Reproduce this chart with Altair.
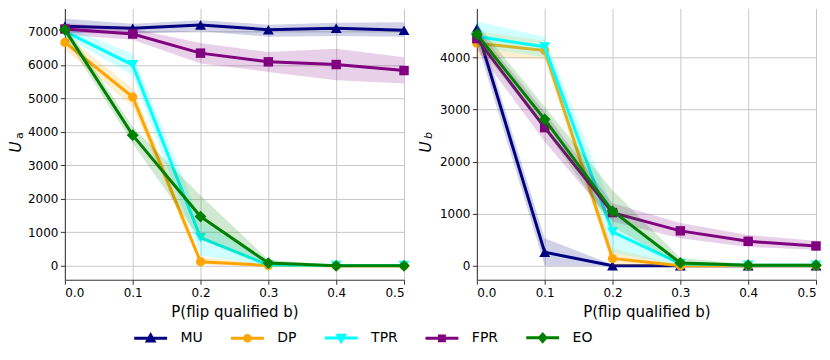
import altair as alt
import pandas as pd

# ---------------- data ----------------
xs = [0.0, 0.1, 0.2, 0.3, 0.4, 0.5]
series = ["MU", "DP", "TPR", "FPR", "EO"]
colors = ["#000080", "#ffa500", "#00ffff", "#800080", "#008000"]
shapes = ["triangle-up", "circle", "triangle-down", "square", "diamond"]
sizes = [120, 85, 120, 90, 140]

# left panel  (U_a)
ua_MU = [7150, 7090, 7190, 7050, 7090, 7030]
ua_MU_lo = [6950, 6930, 7000, 6840, 6860, 6840]
ua_MU_hi = [7380, 7230, 7330, 7200, 7260, 7270]
ua_DP = [6670, 5040, 120, 10, 0, 0]
ua_DP_lo = [6450, 4750, 30, 0, 0, 0]
ua_DP_hi = [6900, 5300, 260, 40, 20, 20]
ua_TPR = [7000, 6000, 840, 20, 10, 10]
ua_TPR_lo = [6850, 5690, 300, 0, 0, 0]
ua_TPR_hi = [7150, 6330, 1350, 100, 30, 30]
ua_FPR = [7070, 6920, 6350, 6090, 6010, 5830]
ua_FPR_lo = [6900, 6750, 6040, 5790, 5540, 5440]
ua_FPR_hi = [7250, 7080, 6650, 6380, 6480, 6230]
ua_EO = [7050, 3900, 1470, 80, 0, 0]
ua_EO_lo = [6850, 3650, 780, 0, 0, 0]
ua_EO_hi = [7200, 4150, 2100, 180, 20, 20]

# right panel (U_b)
ub_MU = [4550, 260, 0, 0, 0, 0]
ub_MU_lo = [4300, 0, 0, 0, 0, 0]
ub_MU_hi = [4750, 530, 20, 10, 10, 10]
ub_DP = [4270, 4130, 140, 0, 0, 0]
ub_DP_lo = [4030, 3960, 0, 0, 0, 0]
ub_DP_hi = [4500, 4320, 330, 20, 10, 10]
ub_TPR = [4400, 4200, 650, 40, 10, 10]
ub_TPR_lo = [4200, 4000, 250, 0, 0, 0]
ub_TPR_hi = [4690, 4390, 1100, 90, 30, 30]
ub_FPR = [4360, 2650, 1020, 670, 470, 380]
ub_FPR_lo = [4150, 2380, 850, 530, 360, 310]
ub_FPR_hi = [4550, 2950, 1200, 820, 590, 480]
ub_EO = [4440, 2810, 1050, 55, 10, 10]
ub_EO_lo = [4250, 2620, 750, 0, 0, 0]
ub_EO_hi = [4650, 3050, 1450, 150, 30, 30]

ua_yticks = [0, 1000, 2000, 3000, 4000, 5000, 6000, 7000]
ub_yticks = [0, 1000, 2000, 3000, 4000]
x_title = "P(flip qualified b)"

# legend handle glyphs: a line with the marker on it
legend_paths = [
    "M-1,0H1M-0.2,0.17L0,-0.19L0.2,0.17Z",
    "M-1,0H1M0.17,0A0.17,0.17,0,1,1,-0.17,0A0.17,0.17,0,1,1,0.17,0Z",
    "M-1,0H1M-0.2,-0.17L0,0.19L0.2,-0.17Z",
    "M-1,0H1M-0.15,-0.15H0.15V0.15H-0.15Z",
    "M-1,0H1M0,-0.22L0.19,0L0,0.22L-0.19,0Z",
]


def make_df(vals):
    rows = []
    for name in series:
        m, lo, hi = vals[name]
        for x, a, b, c in zip(xs, m, lo, hi):
            rows.append({"series": name, "x": x, "y": a, "lo": b, "hi": c})
    return pd.DataFrame(rows)


df_a = make_df({
    "MU": (ua_MU, ua_MU_lo, ua_MU_hi),
    "DP": (ua_DP, ua_DP_lo, ua_DP_hi),
    "TPR": (ua_TPR, ua_TPR_lo, ua_TPR_hi),
    "FPR": (ua_FPR, ua_FPR_lo, ua_FPR_hi),
    "EO": (ua_EO, ua_EO_lo, ua_EO_hi),
})
df_b = make_df({
    "MU": (ub_MU, ub_MU_lo, ub_MU_hi),
    "DP": (ub_DP, ub_DP_lo, ub_DP_hi),
    "TPR": (ub_TPR, ub_TPR_lo, ub_TPR_hi),
    "FPR": (ub_FPR, ub_FPR_lo, ub_FPR_hi),
    "EO": (ub_EO, ub_EO_lo, ub_EO_hi),
})

W, H = 340, 272
FONT = "DejaVu Sans"


def panel(df, ydom, yticks, sub, extent, u_x, with_legend):
    X = alt.X("x:Q", scale=alt.Scale(domain=[0, 0.5], nice=False, zero=False),
              axis=alt.Axis(values=xs, format=".1f", title=x_title, titlePadding=6,
                            labelPadding=3.5))
    yscale = alt.Scale(domain=ydom, nice=False, zero=False)
    yaxis = alt.Axis(values=yticks, format="d", title=None, minExtent=extent, maxExtent=extent)
    layers = []
    for name, c, shp, sz in zip(series, colors, shapes, sizes):
        base = alt.Chart(df).transform_filter(alt.datum.series == name)
        layers.append(base.mark_area(color=c, opacity=0.18).encode(
            x=X, y=alt.Y("lo:Q", scale=yscale, axis=yaxis), y2="hi:Q"))
        layers.append(base.mark_line(color=c, strokeWidth=3).encode(
            x=X, y=alt.Y("y:Q", scale=yscale, axis=yaxis)))
        layers.append(base.mark_point(filled=True, shape=shp, size=sz, color=c, opacity=1).encode(
            x=X, y=alt.Y("y:Q", scale=yscale, axis=yaxis)))
    # y axis title "U" with subscript
    t1 = alt.Chart(pd.DataFrame({"t": ["U"]})).mark_text(
        font=FONT, fontSize=15, fontStyle="italic", angle=270, align="center",
        baseline="alphabetic", color="black").encode(
        text="t:N", x=alt.value(u_x), y=alt.value(139))
    t2 = alt.Chart(pd.DataFrame({"t": [sub]})).mark_text(
        font=FONT, fontSize=11, fontStyle="italic" if sub == "b" else "normal", angle=270,
        align="center", baseline="alphabetic", color="black").encode(
        text="t:N", x=alt.value(u_x + 1.5), y=alt.value(127.5))
    layers += [t1, t2]
    if with_legend:
        leg = alt.Legend(title=None, orient="none", legendX=68, legendY=312,
                         direction="horizontal", columns=5, symbolSize=1089,
                         symbolStrokeWidth=3, labelFontSize=14, labelFont=FONT,
                         labelColor="black", labelOffset=12, columnPadding=21,
                         symbolOpacity=1)
        lg = alt.Chart(pd.DataFrame({"series": series})).transform_filter("false").mark_point(
            filled=True, strokeWidth=3, opacity=1).encode(
            fill=alt.Fill("series:N", scale=alt.Scale(domain=series, range=colors), legend=leg),
            stroke=alt.Stroke("series:N", scale=alt.Scale(domain=series, range=colors), legend=leg),
            shape=alt.Shape("series:N", scale=alt.Scale(domain=series, range=legend_paths), legend=leg),
        )
        layers.append(lg)
    return alt.layer(*layers).properties(width=W, height=H)


left = panel(df_a, [-417, 7685], ua_yticks, "a", 57, -43.5, True)
right = panel(df_b, [-268, 4938], ub_yticks, "b", 52, -46.3, False)

chart = alt.hconcat(left, right, spacing=8).properties(
    padding=0, background="white"
).configure_axis(
    labelFont=FONT, labelFontSize=12, labelColor="black",
    titleFont=FONT, titleFontSize=15, titleColor="black", titleFontWeight="normal",
    gridColor="#c8c8c8", gridWidth=1, domainColor="#333333", tickColor="#333333",
    tickSize=4.5, labelPadding=2.5,
).configure_view(strokeWidth=0)

chart.save("out.html", embed_options={"renderer": "svg", "actions": False})
